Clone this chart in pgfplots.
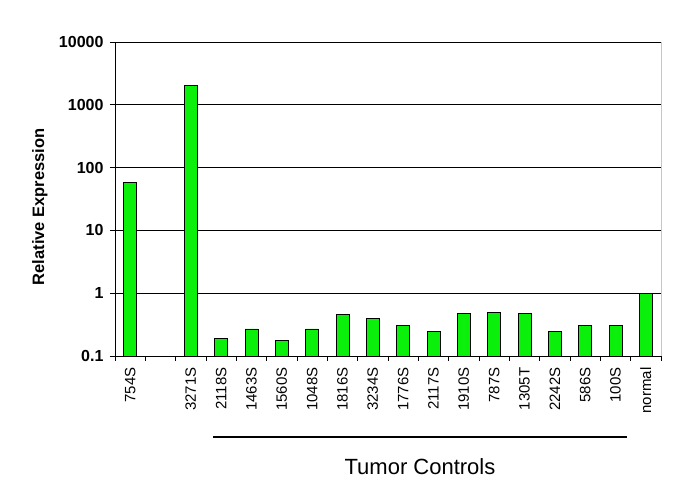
\documentclass[border=0pt]{standalone}
\usepackage{pgfplots}
\pgfplotsset{compat=1.18}
\usepackage{fontspec}
\setmainfont{Liberation Sans}
\definecolor{bargreen}{RGB}{10,240,10}
\begin{document}
\begin{tikzpicture}
\begin{axis}[
  at={(0,0)}, anchor=south west,
  scale only axis, width=546pt, height=314pt,
  ymode=log, ymin=0.1, ymax=10000, log origin y=infty,
  xmin=-0.5, xmax=17.5,
  axis x line*=bottom, axis y line*=left,
  axis line style={-, black, line width=0.9pt},
  ytick={0.1,1,10,100,1000,10000},
  yticklabels={0.1,1,10,100,1000,10000},
  yminorticks=false,
  ymajorgrids, major grid style={black, line width=0.9pt},
  xtick={0,...,17},
  xticklabels={754S,,3271S,2118S,1463S,1560S,1048S,1816S,3234S,1776S,2117S,1910S,787S,1305T,2242S,586S,100S,normal},
  minor xtick={-0.5,0.5,...,17.5},
  major x tick style={draw=none},
  minor x tick style={black, line width=0.9pt},
  y tick style={black, line width=0.9pt},
  tick align=outside, major tick length=5pt, minor tick length=5pt,
  yticklabel style={font=\bfseries\fontsize{16}{18}\selectfont},
  xticklabel style={font=\fontsize{15}{17}\selectfont, rotate=90, anchor=east},
  xticklabel shift=3pt, yticklabel shift=3pt,
  ylabel={Relative Expression},
  every axis y label/.style={at={(axis description cs:-0.1374,0.475)}, rotate=90, anchor=center, font=\bfseries\fontsize{16.5}{19}\selectfont},
]
\addplot[ybar, bar width=13pt, fill=bargreen, draw=black, line width=0.8pt] coordinates {
(0,58) (2,2050) (3,0.19) (4,0.27) (5,0.177) (6,0.27) (7,0.46) (8,0.40) (9,0.31)
(10,0.25) (11,0.48) (12,0.50) (13,0.48) (14,0.25) (15,0.31) (16,0.31) (17,1.0)
};
\end{axis}
\draw[gray!45, line width=0.9pt] (546pt,0pt) -- (546pt,314pt);
\draw[black, line width=2pt] (98pt,-81pt) -- (512pt,-81pt);
\node[font=\fontsize{22}{26}\selectfont] at (305pt,-111pt) {Tumor Controls};
\pgfresetboundingbox
\path[use as bounding box] (-115pt,-137pt) rectangle (570pt,356pt);
\end{tikzpicture}
\end{document}
